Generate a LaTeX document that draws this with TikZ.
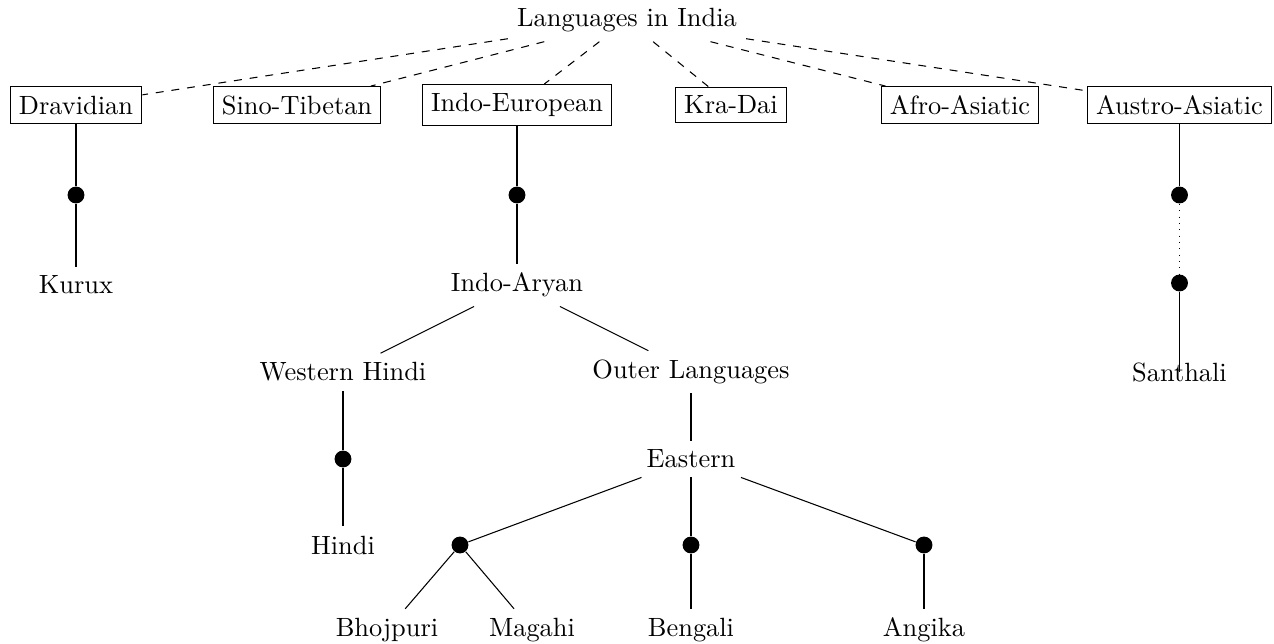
\documentclass[tikz,border=0pt]{standalone}
\usetikzlibrary{positioning}

\begin{document}
\begin{tikzpicture}[x=0.379pt, y=-0.379pt,
  family/.style={draw, rectangle},
  branchdot/.style={circle, fill, inner sep=0pt, minimum size=6.4pt}]
\useasboundingbox (0,0) rectangle (1274,644);
% Root and language families
\node (root) at (627,20.5) {Languages in India};
\node[family] (drav) at (76,105) {Dravidian};
\node[family] (sino) at (297,105) {Sino-Tibetan};
\node[family] (ie) at (517,105) {Indo-European};
\node[family] (kra) at (731,105) {Kra-Dai};
\node[family] (afro) at (960,105) {Afro-Asiatic};
\node[family] (austro) at (1179.5,105) {Austro-Asiatic};
\foreach \fam in {drav, sino, ie, kra, afro, austro}
  \draw[dashed] (root) -- (\fam);
% Dravidian branch
\node[branchdot] (d1) at (76,195) {};
\node (kurux) at (76,285) {Kurux};
% Indo-European branch
\node[branchdot] (d2) at (517,195) {};
\node (ia) at (517,285) {Indo-Aryan};
\node (wh) at (343,372) {Western Hindi};
\node (outer) at (691,372) {Outer Languages};
\node[branchdot] (d3) at (343,459) {};
\node (hindi) at (343,545) {Hindi};
\node (east) at (691,459) {Eastern};
\node[branchdot] (d4) at (460,545) {};
\node[branchdot] (d5) at (691,545) {};
\node[branchdot] (d6) at (924,545) {};
\node (bhoj) at (387,630) {Bhojpuri};
\node (mag) at (532,630) {Magahi};
\node (beng) at (691,630) {Bengali};
\node (ang) at (924,630) {Angika};
% Austro-Asiatic branch
\node[branchdot] (d7) at (1179.5,195) {};
\node[branchdot] (d8) at (1179.5,283) {};
\node (santhali) at (1179.5,372) {Santhali};
\foreach \a/\b in {drav/d1, d1/kurux, ie/d2, d2/ia, ia/wh, ia/outer,
    wh/d3, d3/hindi, outer/east, east/d4, east/d5, east/d6,
    d4/bhoj, d4/mag, d5/beng, d6/ang, austro/d7}
  \draw (\a) -- (\b);
\draw[dotted] (d7) -- (d8);
\draw (d8) -- (santhali.center);
\end{tikzpicture}
\end{document}
